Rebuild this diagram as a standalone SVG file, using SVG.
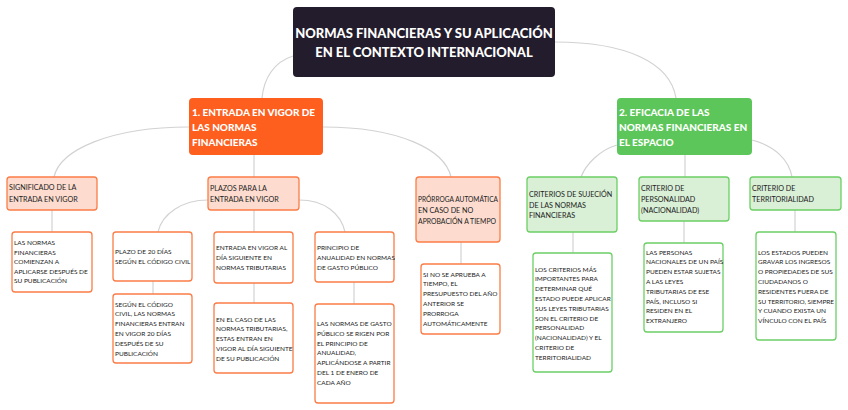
<svg xmlns="http://www.w3.org/2000/svg" width="848" height="410" viewBox="0 0 848 410">
<style>
.bg{fill:#ffffff}
.con path{fill:none;stroke:#d2d2d2;stroke-width:1.2}
.root{fill:#231c2c}
.b1{fill:#fe5f1f}
.b2{fill:#5dc65a}
.l2o{fill:#fddccf;stroke:#fb7c47;stroke-width:1.3}
.l3o{fill:#ffffff;stroke:#fb7c47;stroke-width:1.3}
.l2g{fill:#d9efd6;stroke:#6ccf66;stroke-width:1.3}
.l3g{fill:#ffffff;stroke:#6ccf66;stroke-width:1.3}
text{font-family:Lato,"Liberation Sans",sans-serif}
.tr{font-size:13px;font-weight:900;fill:#ffffff;text-anchor:middle}
.tb{font-size:10px;font-weight:900;fill:#ffffff}
.t2{font-size:7.2px;fill:#222222}
.t3{font-size:6.5px;fill:#222222}
</style>
<rect class="bg" x="0" y="0" width="848" height="410"/>
<g class="con" id="connectors">
<path d="M293,56 C274,62 264,78 262,98"/>
<path d="M555,42 C625,42 670,62 676,98"/>
<path d="M189,127 C110,127 60,150 54,177"/>
<path d="M254,155 L254,177"/>
<path d="M323,127 C400,127 445,150 451,177"/>
<path d="M617,145 C600,150 586,164 581,177"/>
<path d="M685,155 L685,177"/>
<path d="M752,140 C775,146 789,160 792,177"/>
<path d="M52,210 L52,232"/>
<path d="M208,200 C182,200 162,214 158,232"/>
<path d="M254,210 L254,232"/>
<path d="M299,200 C325,200 341,214 345,232"/>
<path d="M153,281 L153,294"/>
<path d="M254,283 L254,303"/>
<path d="M354,282 L354,304"/>
<path d="M461,242 L461,264"/>
<path d="M573,232 L573,253"/>
<path d="M684,221 L684,243"/>
<path d="M795,210 L795,232"/>
</g>
<g id="root">
<rect class="root" x="293" y="7" width="262" height="70" rx="4"/>
<text class="tr" x="424" y="38">NORMAS FINANCIERAS Y SU APLICACIÓN</text>
<text class="tr" x="424" y="57">EN EL CONTEXTO INTERNACIONAL</text>
</g>
<g id="n1">
<rect class="b1" x="189" y="98" width="134" height="57" rx="4"/>
<text class="tb" x="192" y="116">1. ENTRADA EN VIGOR DE</text>
<text class="tb" x="192" y="131">LAS NORMAS</text>
<text class="tb" x="192" y="146">FINANCIERAS</text>
</g>
<g id="n2">
<rect class="b2" x="617" y="98" width="135" height="57" rx="4"/>
<text class="tb" x="619" y="116">2. EFICACIA DE LAS</text>
<text class="tb" x="619" y="131">NORMAS FINANCIERAS EN</text>
<text class="tb" x="619" y="146">EL ESPACIO</text>
</g>
<g id="n1a">
<rect class="l2o" x="7" y="177" width="90" height="33" rx="3"/>
<text class="t2" x="9" y="190">SIGNIFICADO DE LA</text>
<text class="t2" x="9" y="202">ENTRADA EN VIGOR</text>
</g>
<g id="n1b">
<rect class="l2o" x="208" y="177" width="91" height="33" rx="3"/>
<text class="t2" x="210" y="191">PLAZOS PARA LA</text>
<text class="t2" x="210" y="202">ENTRADA EN VIGOR</text>
</g>
<g id="n1c">
<rect class="l2o" x="416" y="177" width="84" height="65" rx="3"/>
<text class="t2" x="418" y="202" textLength="80" lengthAdjust="spacingAndGlyphs">PRÓRROGA AUTOMÁTICA</text>
<text class="t2" x="418" y="213">EN CASO DE NO</text>
<text class="t2" x="418" y="224" textLength="78" lengthAdjust="spacingAndGlyphs">APROBACIÓN A TIEMPO</text>
</g>
<g id="n2a">
<rect class="l2g" x="527" y="177" width="90" height="55" rx="3"/>
<text class="t2" x="529" y="197">CRITERIOS DE SUJECIÓN</text>
<text class="t2" x="529" y="207.5">DE LAS NORMAS</text>
<text class="t2" x="529" y="218">FINANCIERAS</text>
</g>
<g id="n2b">
<rect class="l2g" x="639" y="177" width="90" height="44" rx="3"/>
<text class="t2" x="641" y="191">CRITERIO DE</text>
<text class="t2" x="641" y="202">PERSONALIDAD</text>
<text class="t2" x="641" y="213">(NACIONALIDAD)</text>
</g>
<g id="n2c">
<rect class="l2g" x="750" y="177" width="91" height="33" rx="3"/>
<text class="t2" x="752" y="191">CRITERIO DE</text>
<text class="t2" x="752" y="202">TERRITORIALIDAD</text>
</g>
<g id="n1a1">
<rect class="l3o" x="12" y="232" width="80" height="60" rx="3"/>
<text class="t3" x="14" y="245">LAS NORMAS</text>
<text class="t3" x="14" y="254.6">FINANCIERAS</text>
<text class="t3" x="14" y="264.2">COMIENZAN A</text>
<text class="t3" x="14" y="273.8">APLICARSE DESPUÉS DE</text>
<text class="t3" x="14" y="283.4">SU PUBLICACIÓN</text>
</g>
<g id="n1b1">
<rect class="l3o" x="113" y="232" width="79" height="49" rx="3"/>
<text class="t3" x="115" y="254">PLAZO DE 20 DÍAS</text>
<text class="t3" x="115" y="264">SEGÚN EL CÓDIGO CIVIL</text>
</g>
<g id="n1b2">
<rect class="l3o" x="214" y="232" width="79" height="51" rx="3"/>
<text class="t3" x="216" y="250">ENTRADA EN VIGOR AL</text>
<text class="t3" x="216" y="260">DÍA SIGUIENTE EN</text>
<text class="t3" x="216" y="270">NORMAS TRIBUTARIAS</text>
</g>
<g id="n1b3">
<rect class="l3o" x="315" y="232" width="79" height="50" rx="3"/>
<text class="t3" x="317" y="249.5">PRINCIPIO DE</text>
<text class="t3" x="317" y="259.5">ANUALIDAD EN NORMAS</text>
<text class="t3" x="317" y="269.5">DE GASTO PÚBLICO</text>
</g>
<g id="n1b1a">
<rect class="l3o" x="113" y="294" width="79" height="69" rx="3"/>
<text class="t3" x="115" y="306.5">SEGÚN EL CÓDIGO</text>
<text class="t3" x="115" y="316.3">CIVIL, LAS NORMAS</text>
<text class="t3" x="115" y="326.1">FINANCIERAS ENTRAN</text>
<text class="t3" x="115" y="335.9">EN VIGOR 20 DÍAS</text>
<text class="t3" x="115" y="345.7">DESPUÉS DE SU</text>
<text class="t3" x="115" y="355.5">PUBLICACIÓN</text>
</g>
<g id="n1b2a">
<rect class="l3o" x="214" y="303" width="79" height="70" rx="3"/>
<text class="t3" x="216" y="321.5">EN EL CASO DE LAS</text>
<text class="t3" x="216" y="331.3">NORMAS TRIBUTARIAS,</text>
<text class="t3" x="216" y="341.1">ESTAS ENTRAN EN</text>
<text class="t3" x="216" y="350.9">VIGOR AL DÍA SIGUIENTE</text>
<text class="t3" x="216" y="360.7">DE SU PUBLICACIÓN</text>
</g>
<g id="n1b3a">
<rect class="l3o" x="315" y="304" width="79" height="99" rx="3"/>
<text class="t3" x="317" y="326">LAS NORMAS DE GASTO</text>
<text class="t3" x="317" y="335.8">PÚBLICO SE RIGEN POR</text>
<text class="t3" x="317" y="345.6">EL PRINCIPIO DE</text>
<text class="t3" x="317" y="355.4">ANUALIDAD,</text>
<text class="t3" x="317" y="365.2">APLICÁNDOSE A PARTIR</text>
<text class="t3" x="317" y="375">DEL 1 DE ENERO DE</text>
<text class="t3" x="317" y="384.8">CADA AÑO</text>
</g>
<g id="n1c1">
<rect class="l3o" x="421" y="264" width="79" height="70" rx="3"/>
<text class="t3" x="423" y="276.5">SI NO SE APRUEBA A</text>
<text class="t3" x="423" y="286.3">TIEMPO, EL</text>
<text class="t3" x="423" y="296.1">PRESUPUESTO DEL AÑO</text>
<text class="t3" x="423" y="305.9">ANTERIOR SE</text>
<text class="t3" x="423" y="315.7">PRORROGA</text>
<text class="t3" x="423" y="325.5">AUTOMÁTICAMENTE</text>
</g>
<g id="n2a1">
<rect class="l3g" x="533" y="253" width="79" height="119" rx="3"/>
<text class="t3" x="535" y="271.5">LOS CRITERIOS MÁS</text>
<text class="t3" x="535" y="281.3">IMPORTANTES PARA</text>
<text class="t3" x="535" y="291.1">DETERMINAR QUÉ</text>
<text class="t3" x="535" y="300.9">ESTADO PUEDE APLICAR</text>
<text class="t3" x="535" y="310.7">SUS LEYES TRIBUTARIAS</text>
<text class="t3" x="535" y="320.5">SON EL CRITERIO DE</text>
<text class="t3" x="535" y="330.3">PERSONALIDAD</text>
<text class="t3" x="535" y="340.1">(NACIONALIDAD) Y EL</text>
<text class="t3" x="535" y="349.9">CRITERIO DE</text>
<text class="t3" x="535" y="359.7">TERRITORIALIDAD</text>
</g>
<g id="n2b1">
<rect class="l3g" x="644" y="243" width="79" height="89" rx="3"/>
<text class="t3" x="646" y="254.5">LAS PERSONAS</text>
<text class="t3" x="646" y="264.3">NACIONALES DE UN PAÍS</text>
<text class="t3" x="646" y="274.1">PUEDEN ESTAR SUJETAS</text>
<text class="t3" x="646" y="283.9">A LAS LEYES</text>
<text class="t3" x="646" y="293.7">TRIBUTARIAS DE ESE</text>
<text class="t3" x="646" y="303.5">PAÍS, INCLUSO SI</text>
<text class="t3" x="646" y="313.3">RESIDEN EN EL</text>
<text class="t3" x="646" y="323.1">EXTRANJERO</text>
</g>
<g id="n2c1">
<rect class="l3g" x="756" y="232" width="80" height="108" rx="3"/>
<text class="t3" x="758" y="254.5">LOS ESTADOS PUEDEN</text>
<text class="t3" x="758" y="264.3">GRAVAR LOS INGRESOS</text>
<text class="t3" x="758" y="274.1">O PROPIEDADES DE SUS</text>
<text class="t3" x="758" y="283.9">CIUDADANOS O</text>
<text class="t3" x="758" y="293.7">RESIDENTES FUERA DE</text>
<text class="t3" x="758" y="303.5" textLength="76" lengthAdjust="spacingAndGlyphs">SU TERRITORIO, SIEMPRE</text>
<text class="t3" x="758" y="313.3">Y CUANDO EXISTA UN</text>
<text class="t3" x="758" y="323.1">VÍNCULO CON EL PAÍS</text>
</g>
</svg>
